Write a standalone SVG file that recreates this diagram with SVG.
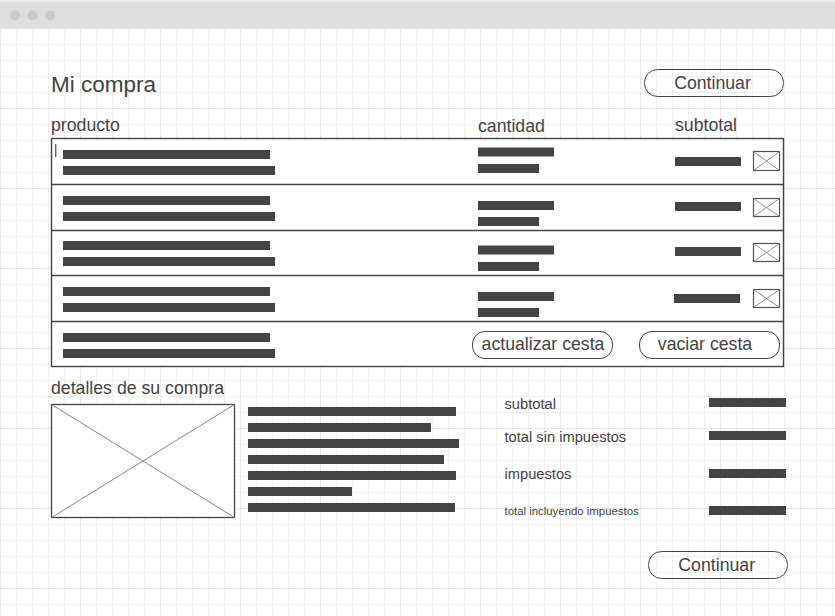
<svg xmlns="http://www.w3.org/2000/svg" width="835" height="616" viewBox="0 0 835 616">
<style>
text{font-family:"Liberation Sans",Arial,sans-serif;fill:#444}
.h{font-size:17.7px}
.s{font-size:14.7px}
.bar{fill:#444}
.btn{fill:none;stroke:#444;stroke-width:1}
.tbl{fill:#fff;stroke:#444;stroke-width:1.4}
.sep{stroke:#444;stroke-width:1.4}
.xb{fill:#fff;stroke:#555;stroke-width:1.2}
.xd{stroke:#888;stroke-width:0.9}
</style>
<defs>
<pattern id="g1" x="0" y="28" width="16" height="16" patternUnits="userSpaceOnUse">
<rect x="0" y="0" width="16" height="1" fill="#f0f0f0"/>
<rect x="0" y="0" width="1" height="16" fill="#f0f0f0"/>
</pattern>
<pattern id="g2" x="0" y="28" width="80" height="80" patternUnits="userSpaceOnUse">
<rect x="0" y="0" width="80" height="1" fill="#e6e6e6"/>
<rect x="0" y="0" width="1" height="80" fill="#e6e6e6"/>
</pattern>
</defs>
<rect width="835" height="616" fill="#fff"/>
<rect x="0" y="28" width="835" height="588" fill="url(#g1)"/>
<rect x="0" y="28" width="835" height="588" fill="url(#g2)"/>
<g id="titlebar">
<rect x="0" y="0" width="835" height="28" fill="#dedede"/>
<rect x="0" y="0" width="835" height="2" fill="#ebebeb"/>
<circle cx="15" cy="15.5" r="5" fill="#cacaca"/>
<circle cx="32.5" cy="15.5" r="5" fill="#cacaca"/>
<circle cx="50" cy="15.5" r="5" fill="#cacaca"/>
</g>
<g id="header">
<text x="51" y="92" style="font-size:22.5px">Mi compra</text>
<text class="h" x="51" y="130.5">producto</text>
<text class="h" x="478" y="132">cantidad</text>
<text class="h" x="675" y="131">subtotal</text>
</g>
<g id="continuar-top">
<rect class="btn" x="644.5" y="69.5" width="139" height="27" rx="13"/>
<text class="h" x="712.5" y="89" text-anchor="middle">Continuar</text>
</g>
<g id="table">
<rect class="tbl" x="51.5" y="138.5" width="732" height="228"/>
</g>
<g id="connectors">
<line class="sep" x1="51.5" y1="184.5" x2="783.5" y2="184.5"/>
<line class="sep" x1="51.5" y1="230.5" x2="783.5" y2="230.5"/>
<line class="sep" x1="51.5" y1="275.5" x2="783.5" y2="275.5"/>
<line class="sep" x1="51.5" y1="321.5" x2="783.5" y2="321.5"/>
</g>
<g id="row1">
<rect x="55" y="144" width="1.4" height="13" fill="#666"/>
<rect class="bar" x="63" y="150" width="207" height="9"/>
<rect class="bar" x="63" y="166" width="212" height="9"/>
<rect class="bar" x="478" y="147.5" width="76" height="9"/>
<rect class="bar" x="478" y="164" width="61" height="9"/>
<rect class="bar" x="675" y="157" width="66" height="9"/>
<rect class="xb" x="753.5" y="151.5" width="26" height="19"/>
<path class="xd" d="M753.5 151.5L779.5 170.5M779.5 151.5L753.5 170.5"/>
</g>
<g id="row2">
<rect class="bar" x="63" y="196" width="207" height="9"/>
<rect class="bar" x="63" y="212" width="212" height="9"/>
<rect class="bar" x="478" y="201" width="76" height="9"/>
<rect class="bar" x="478" y="217" width="61" height="9"/>
<rect class="bar" x="675" y="202" width="66" height="9"/>
<rect class="xb" x="753.5" y="198.5" width="26" height="18"/>
<path class="xd" d="M753.5 198.5L779.5 216.5M779.5 198.5L753.5 216.5"/>
</g>
<g id="row3">
<rect class="bar" x="63" y="241" width="207" height="9"/>
<rect class="bar" x="63" y="257" width="212" height="9"/>
<rect class="bar" x="478" y="245.5" width="76" height="9"/>
<rect class="bar" x="478" y="262" width="61" height="9"/>
<rect class="bar" x="675" y="247" width="66" height="9"/>
<rect class="xb" x="753.5" y="243.5" width="26" height="18"/>
<path class="xd" d="M753.5 243.5L779.5 261.5M779.5 243.5L753.5 261.5"/>
</g>
<g id="row4">
<rect class="bar" x="63" y="287" width="207" height="9"/>
<rect class="bar" x="63" y="303" width="212" height="9"/>
<rect class="bar" x="478" y="292" width="76" height="9"/>
<rect class="bar" x="478" y="308" width="61" height="9"/>
<rect class="bar" x="674" y="294" width="66" height="9"/>
<rect class="xb" x="753.5" y="289.5" width="26" height="18"/>
<path class="xd" d="M753.5 289.5L779.5 307.5M779.5 289.5L753.5 307.5"/>
</g>
<g id="row5">
<rect class="bar" x="63" y="333" width="207" height="9"/>
<rect class="bar" x="63" y="349" width="212" height="9"/>
</g>
<g id="actualizar-cesta">
<rect class="btn" x="472.5" y="331.5" width="140" height="27" rx="12.5"/>
<text class="h" x="543" y="350" text-anchor="middle">actualizar cesta</text>
</g>
<g id="vaciar-cesta">
<rect class="btn" x="639.5" y="331.5" width="140" height="27" rx="12.5"/>
<text class="h" x="705" y="350" text-anchor="middle">vaciar cesta</text>
</g>
<g id="detalles">
<text class="h" x="51" y="394">detalles de su compra</text>
<rect x="51.5" y="404.5" width="183" height="113" fill="#fff" stroke="#444" stroke-width="1.3"/>
<path d="M51.5 404.5L234.5 517.5M234.5 404.5L51.5 517.5" stroke="#888" stroke-width="1"/>
<rect class="bar" x="248" y="407" width="208" height="9"/>
<rect class="bar" x="248" y="423" width="183" height="9"/>
<rect class="bar" x="248" y="439" width="211" height="9"/>
<rect class="bar" x="248" y="455" width="196" height="9"/>
<rect class="bar" x="248" y="471" width="208" height="9"/>
<rect class="bar" x="248" y="487" width="104" height="9"/>
<rect class="bar" x="248" y="503" width="207" height="9"/>
</g>
<g id="resumen">
<text class="s" x="504.5" y="409">subtotal</text>
<text class="s" x="504.5" y="442">total sin impuestos</text>
<text class="s" x="504.5" y="479">impuestos</text>
<text x="504.5" y="514.5" style="font-size:11.4px">total incluyendo impuestos</text>
<rect class="bar" x="709" y="398" width="77" height="9"/>
<rect class="bar" x="709" y="431" width="77" height="9"/>
<rect class="bar" x="709" y="469" width="77" height="9"/>
<rect class="bar" x="709" y="506" width="77" height="9"/>
</g>
<g id="continuar-bottom">
<rect class="btn" x="648.5" y="551.5" width="139" height="27" rx="13"/>
<text class="h" x="716.7" y="571" text-anchor="middle">Continuar</text>
</g>
</svg>
